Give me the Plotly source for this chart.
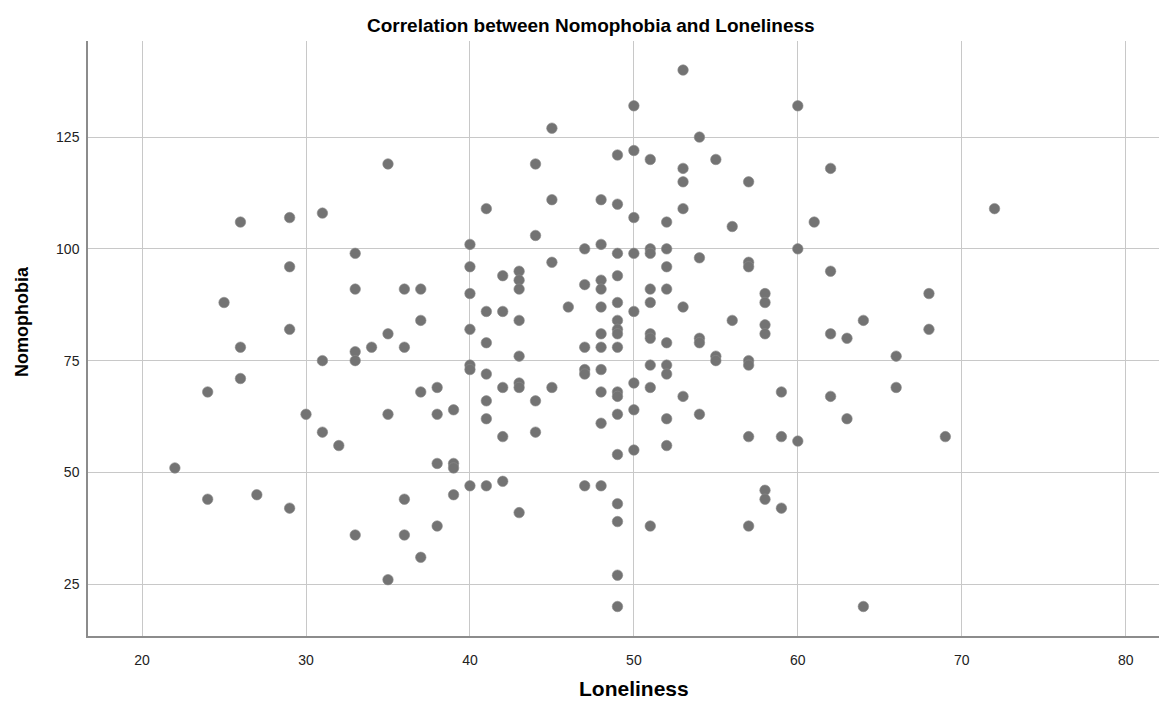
import plotly.graph_objects as go

# Loneliness values (x) and Nomophobia values (y), grouped by loneliness score
groups = {
    22: [51],
    24: [68, 44],
    25: [88],
    26: [106, 78, 71],
    27: [45],
    29: [107, 96, 82, 42],
    30: [63],
    31: [108, 75, 59],
    32: [56],
    33: [99, 91, 77, 75, 36],
    34: [78],
    35: [119, 81, 63, 26],
    36: [91, 78, 44, 36],
    37: [91, 84, 68, 31],
    38: [69, 63, 52, 38],
    39: [64, 52, 51, 45],
    40: [101, 96, 90, 82, 74, 73, 47],
    41: [109, 86, 79, 72, 66, 62, 47],
    42: [94, 86, 69, 58, 48],
    43: [95, 93, 91, 84, 76, 70, 69, 41],
    44: [119, 103, 66, 59],
    45: [127, 111, 97, 69],
    46: [87],
    47: [100, 92, 78, 73, 72, 47],
    48: [111, 101, 93, 91, 87, 81, 78, 73, 68, 61, 47],
    49: [121, 110, 99, 94, 88, 84, 82, 81, 78, 68, 67, 63, 54, 43, 39, 27, 20],
    50: [132, 122, 107, 99, 86, 70, 64, 55],
    51: [120, 100, 99, 91, 88, 81, 80, 74, 69, 38],
    52: [106, 100, 96, 91, 79, 74, 72, 62, 56],
    53: [140, 118, 115, 109, 87, 67],
    54: [125, 98, 80, 79, 63],
    55: [120, 76, 75],
    56: [105, 84],
    57: [115, 97, 96, 75, 74, 58, 38],
    58: [90, 88, 83, 81, 46, 44],
    59: [68, 58, 42],
    60: [132, 100, 57],
    61: [106],
    62: [118, 95, 81, 67],
    63: [80, 62],
    64: [84, 20],
    66: [76, 69],
    68: [90, 82],
    69: [58],
    72: [109],
}

loneliness = [x for x, ys in groups.items() for _ in ys]
nomophobia = [y for ys in groups.values() for y in ys]

x_ticks = [20, 30, 40, 50, 60, 70, 80]
y_ticks = [25, 50, 75, 100, 125]

title_text = "Correlation between Nomophobia and Loneliness"
x_title = "Loneliness"
y_title = "Nomophobia"

# page has an 8px body margin; size the figure so it fills the window
OFF = 8
W, H = 1167 - OFF, 704 - OFF
L, R, T, B = 80, 2, 33, 68
PW, PH = W - L - R, H - T - B

def px(page_x):
    return (page_x - OFF - L) / PW

def py(page_y):
    return 1 - (page_y - OFF - T) / PH

font = "Liberation Sans, Arial, sans-serif"

fig = go.Figure()
fig.add_trace(go.Scatter(
    x=loneliness, y=nomophobia, mode="markers",
    marker=dict(size=10.5, color="#737373", line=dict(width=0.6, color="#8a8a8a")),
    showlegend=False, hoverinfo="x+y",
))

fig.update_layout(
    width=W, height=H,
    margin=dict(l=L, r=R, t=T, b=B),
    paper_bgcolor="white", plot_bgcolor="white",
    xaxis=dict(
        range=[16.7, 82.4], tickvals=x_ticks, showgrid=True,
        gridcolor="#c8c8c8", gridwidth=1, zeroline=False,
        showline=True, linecolor="#8c8c8c", linewidth=1.5,
        ticks="", ticklabelstandoff=10,
        tickfont=dict(family=font, size=14, color="#222222"),
    ),
    yaxis=dict(
        range=[13.4, 146.5], tickvals=y_ticks, showgrid=True,
        gridcolor="#c8c8c8", gridwidth=1, zeroline=False,
        showline=True, linecolor="#8c8c8c", linewidth=1.5,
        ticks="", ticklabelstandoff=4,
        tickfont=dict(family=font, size=14, color="#222222"),
    ),
    annotations=[
        dict(text="<b>" + title_text + "</b>", xref="paper", yref="paper",
             x=px(591), y=py(25),
             xanchor="center", yanchor="middle", showarrow=False,
             font=dict(family=font, size=19, color="black")),
        dict(text="<b>" + x_title + "</b>", xref="paper", yref="paper",
             x=px(634), y=py(688),
             xanchor="center", yanchor="middle", showarrow=False,
             font=dict(family=font, size=21, color="black")),
        dict(text="<b>" + y_title + "</b>", xref="paper", yref="paper",
             x=px(22), y=py(322),
             xanchor="center", yanchor="middle", showarrow=False, textangle=-90,
             font=dict(family=font, size=18, color="black")),
    ],
)

fig.write_html("out.html")
